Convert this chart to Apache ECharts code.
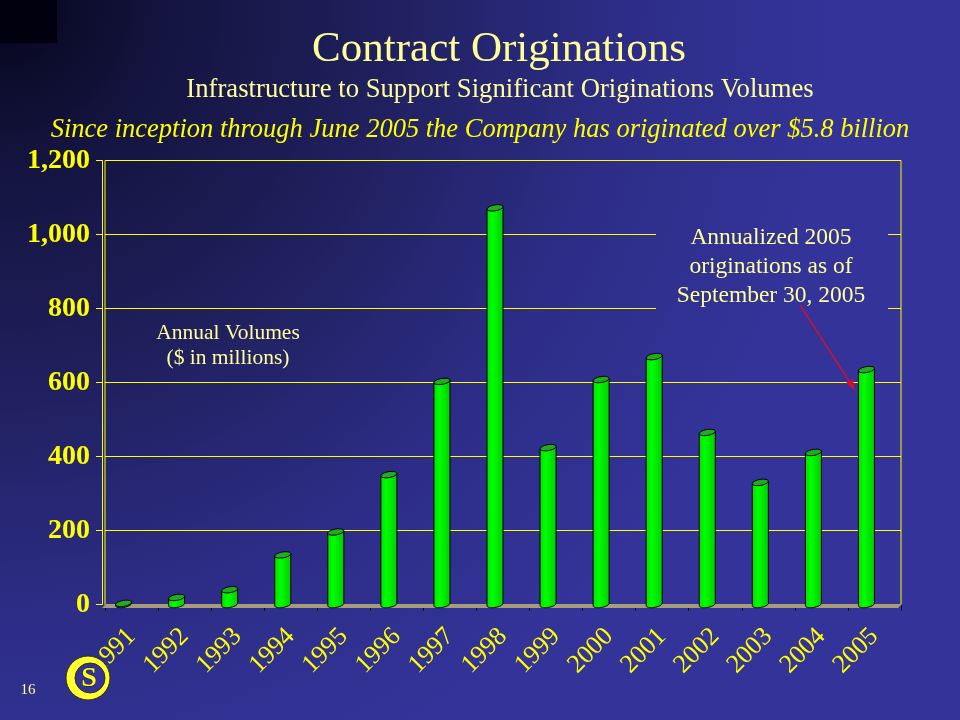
<!DOCTYPE html>
<html>
<head>
<meta charset="utf-8">
<script src="https://cdn.jsdelivr.net/npm/echarts@6/dist/echarts.min.js"></script>
<style>
html,body{margin:0;padding:0;background:#333399;}
#chart{width:960px;height:720px;}
</style>
</head>
<body>
<div id="chart"></div>
<script>
// ---- data ----
const years = ['1991','1992','1993','1994','1995','1996','1997','1998','1999','2000','2001','2002','2003','2004','2005'];
const volumes = [3, 19, 40, 134, 196, 351, 603, 1072, 424, 608, 670, 465, 330, 411, 635];
const yMin = 0, yMax = 1200, yStep = 200;
const titleText = 'Contract Originations';
const subtitleText = 'Infrastructure to Support Significant Originations Volumes';
const noteText = 'Since inception through June 2005 the Company has originated over $5.8 billion';
const unitsText = 'Annual Volumes\n($ in millions)';
const calloutText = 'Annualized 2005\noriginations as of\nSeptember 30, 2005';
const pageNumber = '16';

// ---- style ----
const SERIF = '"Liberation Serif", "Times New Roman", serif';
const LIGHT_YELLOW = '#ffff99';
const YELLOW = '#ffff00';
const BAR_SHIFT = -8;
const BAR_HALF = 8;
const BG_STOPS = [
  {offset: 0, color: '#05051a'},
  {offset: 0.2, color: '#141440'},
  {offset: 0.45, color: '#1f1f5c'},
  {offset: 0.75, color: '#2d2d88'},
  {offset: 1, color: '#333399'}
];
const BG_R = 830;

function ellipsePts(cx, cy, rx, ry, tilt, from, to, n) {
  const pts = [];
  for (let k = 0; k <= n; k++) {
    const t = from + (to - from) * k / n;
    pts.push([cx + rx * Math.cos(t), cy + ry * Math.sin(t) - tilt * Math.cos(t)]);
  }
  return pts;
}

function renderCylinder(params, api) {
  const idx = api.value(0);
  const v = api.value(1);
  const top = api.coord([idx, v]);
  const base = api.coord([idx, 0]);
  const cx = top[0] + BAR_SHIFT;
  const ry = 3, tilt = 1.2;
  const children = [];
  if (base[1] - top[1] > 1) {
    const pts = [[cx - BAR_HALF, top[1] + tilt], [cx + BAR_HALF, top[1] - tilt]];
    ellipsePts(cx, base[1], BAR_HALF, ry, tilt, 0, Math.PI, 16).forEach(p => pts.push(p));
    children.push({
      type: 'polygon',
      shape: { points: pts },
      style: {
        fill: { type: 'linear', x: 0, y: 0, x2: 1, y2: 0,
          colorStops: [{offset: 0, color: '#00dd00'}, {offset: 0.35, color: '#00ff00'}, {offset: 1, color: '#00cc00'}] },
        stroke: '#000000', lineWidth: 1
      }
    });
  }
  children.push({
    type: 'polygon',
    shape: { points: ellipsePts(cx, top[1], BAR_HALF, ry, tilt, 0, Math.PI * 2, 24) },
    style: { fill: '#22aa22', stroke: '#000000', lineWidth: 1 }
  });
  return { type: 'group', children: children };
}

const chart = echarts.init(document.getElementById('chart'), null, { renderer: 'canvas' });

chart.setOption({
  animation: false,
  backgroundColor: { type: 'radial', x: 0, y: 0, r: BG_R, global: true, colorStops: BG_STOPS },
  grid: {
    left: 105, right: 59, top: 160.5, bottom: 115.5,
    show: true, borderColor: YELLOW, borderWidth: 1, backgroundColor: 'transparent'
  },
  xAxis: {
    type: 'category',
    data: years,
    offset: 3,
    axisLine: { show: true, lineStyle: { color: '#c8b870', width: 1 } },
    axisTick: { show: true, length: 6, lineStyle: { color: '#000000' } },
    axisLabel: {
      interval: 0, rotate: 45, margin: 25,
      fontFamily: SERIF, fontSize: 26, color: YELLOW
    },
    splitLine: { show: false }
  },
  yAxis: {
    type: 'value',
    min: yMin, max: yMax, interval: yStep,
    offset: 3,
    axisLine: { show: true, lineStyle: { color: YELLOW, width: 1 } },
    axisTick: { show: true, length: 6, lineStyle: { color: YELLOW } },
    axisLabel: {
      margin: 12, fontFamily: SERIF, fontSize: 28, fontWeight: 'bold', color: YELLOW,
      formatter: v => v.toLocaleString('en-US')
    },
    splitLine: { show: true, lineStyle: { color: YELLOW, width: 1 } }
  },
  series: [{
    type: 'custom',
    renderItem: renderCylinder,
    data: years.map((y, i) => [i, volumes[i]]),
    z: 5
  }],
  graphic: [
    // dark block top-left
    { type: 'rect', shape: { x: 0, y: 0, width: 57, height: 43 }, style: { fill: '#00000e' }, z: 1 },
    // titles
    { type: 'text', x: 499, y: 50, z: 10,
      style: { text: titleText, fill: LIGHT_YELLOW, font: '43px ' + SERIF, align: 'center', verticalAlign: 'middle' } },
    { type: 'text', x: 500, y: 90, z: 10,
      style: { text: subtitleText, fill: LIGHT_YELLOW, font: '26.7px ' + SERIF, align: 'center', verticalAlign: 'middle' } },
    { type: 'text', x: 480, y: 130, z: 10,
      style: { text: noteText, fill: YELLOW, font: 'italic 26.5px ' + SERIF, align: 'center', verticalAlign: 'middle' } },
    // floor strip
    { type: 'polygon', shape: { points: [[102, 608], [898, 608], [902, 604], [106, 604]] },
      style: { fill: '#a89c78', stroke: 'none' }, z: 1 },
    // units caption
    { type: 'text', x: 228, y: 346, z: 10,
      style: { text: unitsText, fill: LIGHT_YELLOW, font: '21.5px ' + SERIF, align: 'center', verticalAlign: 'middle', lineHeight: 25 } },
    // callout background + text
    { type: 'rect', shape: { x: 656, y: 221, width: 232, height: 90 },
      style: { fill: { type: 'radial', x: 0, y: 0, r: BG_R, global: true, colorStops: BG_STOPS } }, z: 8 },
    { type: 'text', x: 771, y: 267, z: 10,
      style: { text: calloutText, fill: LIGHT_YELLOW, font: '23.5px ' + SERIF, align: 'center', verticalAlign: 'middle', lineHeight: 29 } },
    // arrow
    { type: 'line', shape: { x1: 800, y1: 305, x2: 851, y2: 384 }, style: { stroke: '#cc1133', lineWidth: 1.5 }, z: 10 },
    { type: 'polygon', shape: { points: [[855, 391], [846, 383], [853, 379]] }, style: { fill: '#cc1133' }, z: 10 },
    // logo
    { type: 'circle', shape: { cx: 88, cy: 678, r: 22 }, style: { fill: '#ffff33', stroke: '#333300', lineWidth: 1 }, z: 100 },
    { type: 'circle', shape: { cx: 90, cy: 678, r: 15 }, style: { fill: '#333399', stroke: '#333300', lineWidth: 1 }, z: 100 },
    { type: 'text', x: 89, y: 679, z: 101,
      style: { text: 'S', fill: '#ffff33', stroke: '#222200', lineWidth: 1, font: 'bold 28px ' + SERIF, align: 'center', verticalAlign: 'middle' } },
    // page number
    { type: 'text', x: 28, y: 690, z: 10,
      style: { text: pageNumber, fill: LIGHT_YELLOW, font: '15px ' + SERIF, align: 'center', verticalAlign: 'middle' } }
  ]
});
</script>
</body>
</html>
